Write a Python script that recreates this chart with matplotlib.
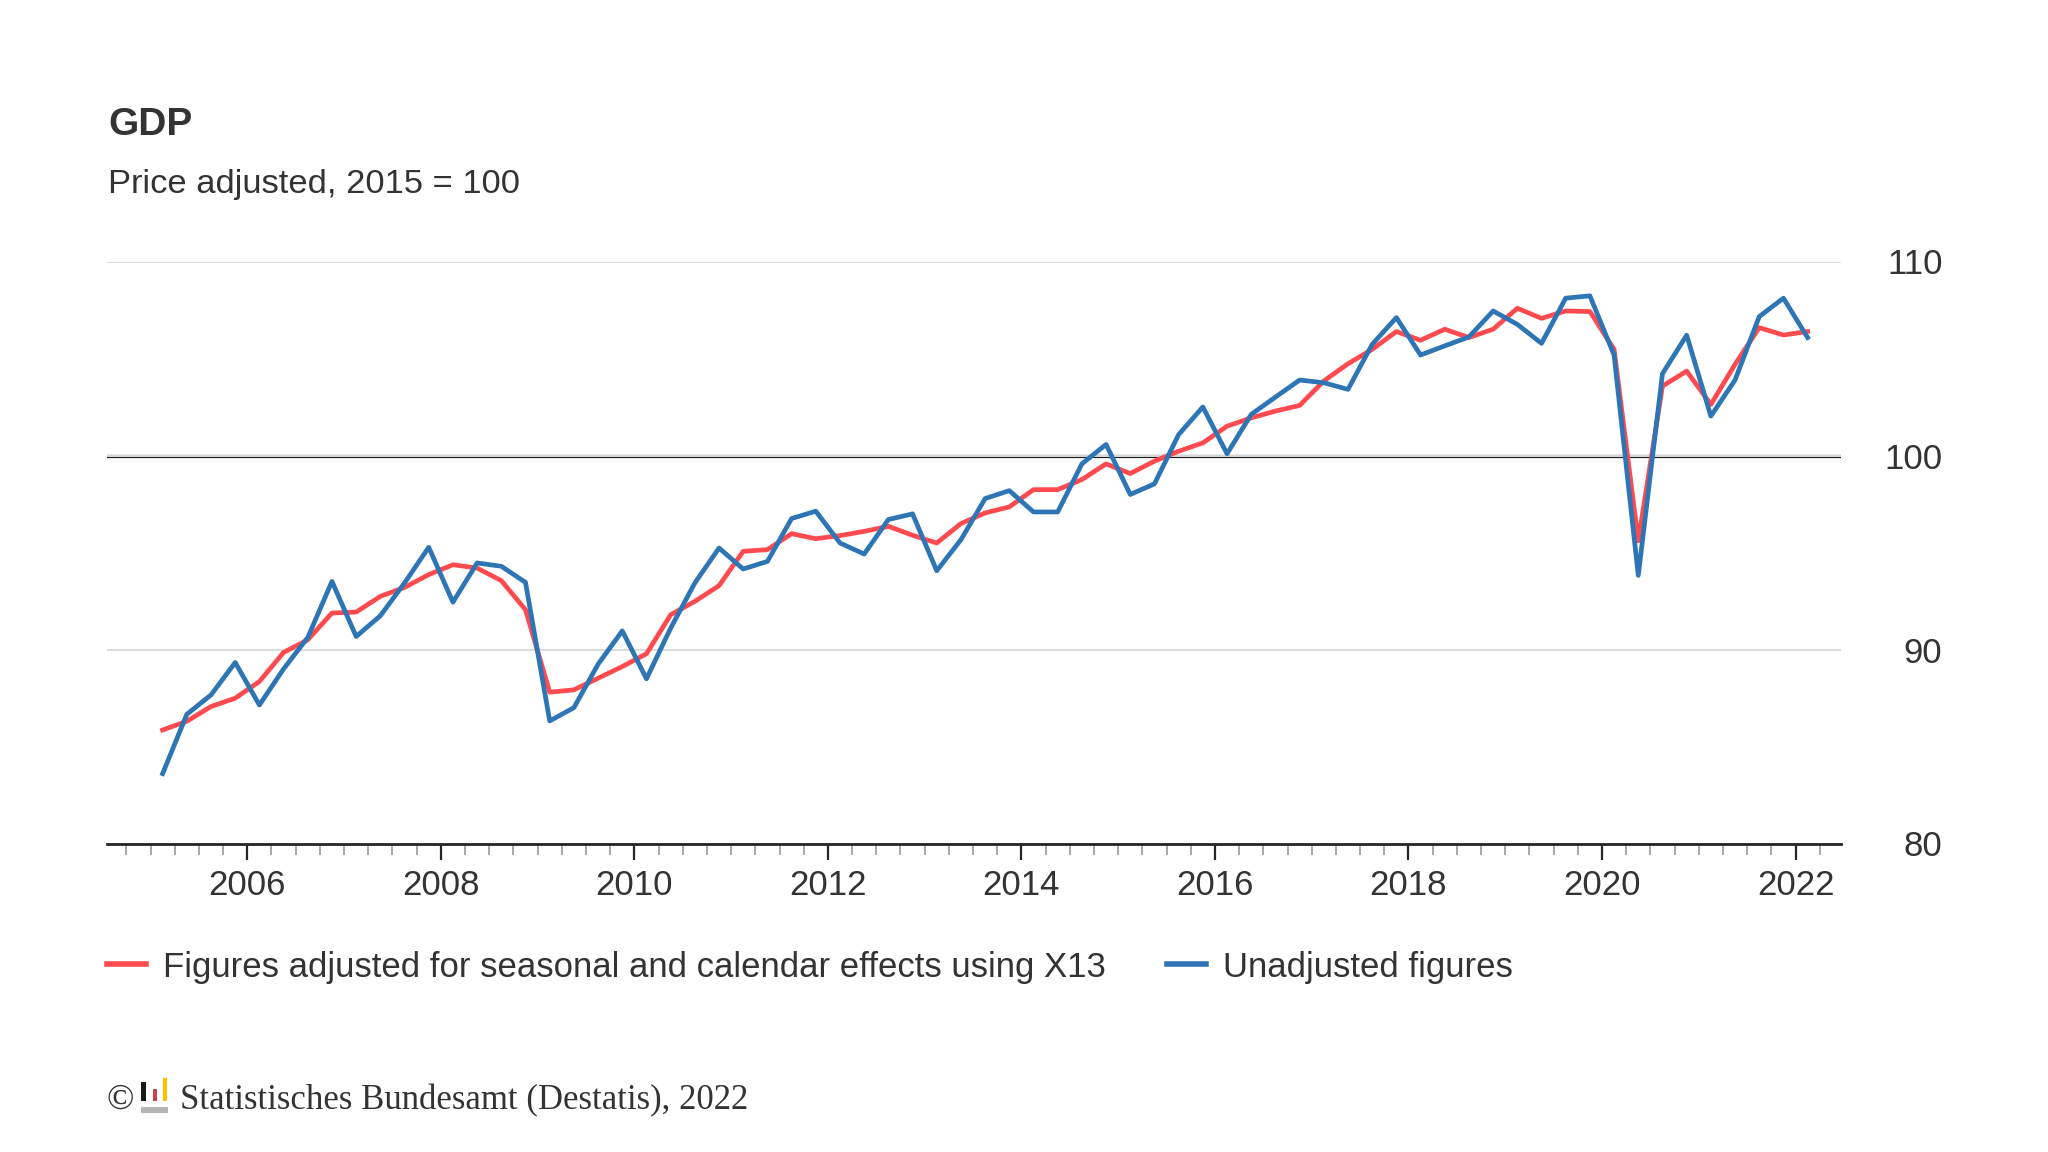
import matplotlib
matplotlib.use("Agg")
import matplotlib.pyplot as plt
from matplotlib.ticker import MultipleLocator, FuncFormatter
from matplotlib.patches import Rectangle
import pandas as pd

plt.rcParams['font.family'] = ['Liberation Sans', 'DejaVu Sans']

# quarterly data, Q1 2005 - Q1 2022 (2015 = 100)
quarters = pd.period_range("2005Q1", "2022Q1", freq="Q")
adjusted = [
    85.85, 86.30, 87.06, 87.49, 88.35, 89.85, 90.50, 91.88,
    91.93, 92.74, 93.20, 93.86, 94.37, 94.20, 93.55, 92.05,
    87.80, 87.92, 88.52, 89.12, 89.78, 91.79, 92.48, 93.29,
    95.06, 95.15, 95.97, 95.71, 95.87, 96.09, 96.35, 95.89,
    95.49, 96.49, 97.04, 97.35, 98.24, 98.24, 98.76, 99.57,
    99.07, 99.71, 100.22, 100.65, 101.51, 101.94, 102.29, 102.58,
    103.84, 104.73, 105.47, 106.39, 105.94, 106.51, 106.08, 106.51,
    107.59, 107.07, 107.45, 107.42, 105.47, 95.60, 103.58, 104.35,
    102.63, 104.70, 106.59, 106.21, 106.39,
]
unadjusted = [
    83.60, 86.66, 87.66, 89.33, 87.14, 89.00, 90.62, 93.51,
    90.67, 91.74, 93.43, 95.27, 92.44, 94.46, 94.29, 93.46,
    86.32, 87.00, 89.24, 90.96, 88.49, 91.10, 93.43, 95.23,
    94.15, 94.54, 96.75, 97.13, 95.49, 94.92, 96.70, 96.99,
    94.06, 95.66, 97.78, 98.19, 97.09, 97.09, 99.57, 100.57,
    97.99, 98.54, 101.08, 102.50, 100.09, 102.12, 103.01, 103.89,
    103.75, 103.41, 105.73, 107.11, 105.18, 105.65, 106.11, 107.45,
    106.76, 105.78, 108.11, 108.23, 105.18, 93.82, 104.22, 106.20,
    102.03, 103.89, 107.16, 108.11, 106.08,
]
labels = ["Figures adjusted for seasonal and calendar effects using X13",
          "Unadjusted figures"]
y_ticks = [80, 90, 100, 110]

# middle of each quarter on a decimal-year axis
x = [p.year + (p.quarter - 1) / 4 + 0.125 for p in quarters]

TXT = '#333333'
RED = '#ff4b50'
BLUE = '#2e75b6'
W, H = 2048, 1152

fig = plt.figure(figsize=(20.48, 11.52), dpi=100)
ax = fig.add_axes([107 / W, 1 - 843.5 / H, 1734 / W, 582 / H])

ax.plot(x, adjusted, color=RED, lw=3.4, label=labels[0], zorder=3)
ax.plot(x, unadjusted, color=BLUE, lw=3.4, label=labels[1], zorder=4)

ax.set_xlim(2004.55, 2022.47)
ax.set_ylim(80, 110)
ax.set_yticks(y_ticks)
ax.grid(axis='y', color='#dcdcdc', lw=1.4, zorder=0)
ax.axhline(100, color='#1e1e1e', lw=2.3, zorder=1)

for s in ['top', 'left', 'right']:
    ax.spines[s].set_visible(False)
ax.spines['bottom'].set_color('#262626')
ax.spines['bottom'].set_linewidth(2.0)

ax.yaxis.tick_right()
ax.tick_params(axis='y', length=0, pad=73, labelsize=25, labelcolor=TXT)
plt.setp(ax.get_yticklabels(), ha='right')

ax.xaxis.set_major_locator(MultipleLocator(2))
ax.xaxis.set_minor_locator(MultipleLocator(0.25))
ax.xaxis.set_major_formatter(FuncFormatter(lambda v, p: f"{int(round(v))}"))
ax.tick_params(axis='x', which='major', length=11.5, width=1.6, color='#262626',
               labelsize=25, labelcolor=TXT, pad=7)
ax.tick_params(axis='x', which='minor', length=8, width=1.2, color='#9a9a9a')

leg = fig.legend(loc='center left', bbox_to_anchor=(107 / W, 1 - 967 / H), ncol=2,
                 frameon=False, borderpad=0, borderaxespad=0, handlelength=1.12,
                 handletextpad=0.5, columnspacing=1.75, fontsize=25)
for t in leg.get_texts():
    t.set_color(TXT)
for ln in leg.get_lines():
    ln.set_linewidth(4)

fig.text(108 / W, 1 - 135 / H, "GDP", fontsize=28, fontweight='bold',
         color=TXT, va='baseline')
fig.text(108 / W, 1 - 193 / H, "Price adjusted, 2015 = 100", fontsize=24.8,
         color=TXT, va='baseline')

# footer with small Destatis logo
serif = ['Liberation Serif', 'DejaVu Serif']
fb = 1109  # footer baseline, pixels from top
fig.text(106 / W, 1 - fb / H, "©", family=serif, fontsize=26, color=TXT,
         va='baseline')
for x0, x1, y0, y1, c in [(141, 146, 1082, 1101, '#1a1a1a'),
                          (152.5, 157, 1088.6, 1101, '#d0404f'),
                          (162.8, 167.2, 1077.5, 1101, '#ffc000'),
                          (141, 168, 1106.5, 1113, '#b4b4b4')]:
    fig.add_artist(Rectangle((x0 / W, 1 - y1 / H), (x1 - x0) / W, (y1 - y0) / H,
                             transform=fig.transFigure, color=c, lw=0))
fig.text(180 / W, 1 - fb / H, "Statistisches Bundesamt (Destatis), 2022",
         family=serif, fontsize=25, color=TXT, va='baseline')

fig.savefig('out.png', dpi=100)
